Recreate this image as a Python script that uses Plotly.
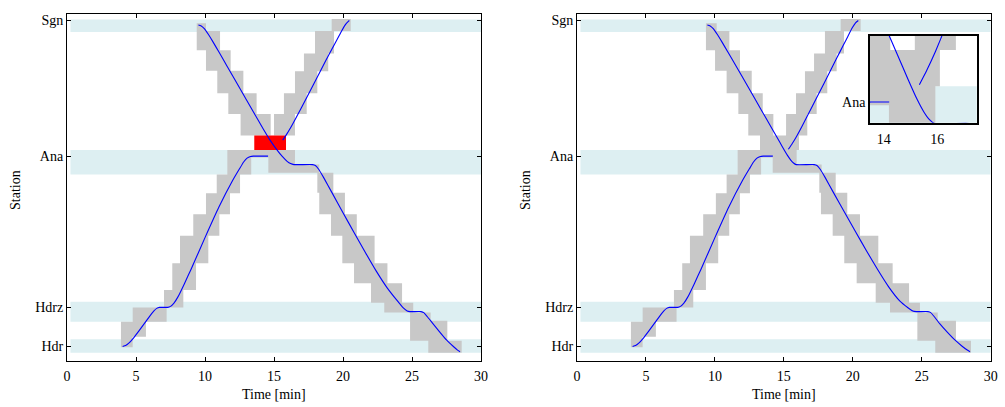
import plotly.graph_objects as go

# ---------------- data ----------------
station_names = ["Hdr", "Hdrz", "Ana", "Sgn"]
station_pos = [0.0, 1.2, 5.84, 10.0]

# station zones (light blue bands)
band_lo = [-0.19, 0.76, 5.28, 9.65]
band_hi = [0.22, 1.37, 6.03, 10.03]
band_t = [0.25, 30.0]

# blocking-time slabs: (y_from, y_to, t_from, t_to)
up_blocks_left = [
    (-0.02, 0.30, 3.91, 4.76), (0.30, 0.76, 3.91, 5.72), (0.76, 1.20, 4.76, 7.22),
    (1.20, 1.73, 7.03, 8.43), (1.73, 2.55, 7.63, 9.35), (2.55, 3.40, 8.19, 10.24),
    (3.40, 4.06, 9.15, 11.04), (4.06, 4.70, 10.07, 11.81), (4.70, 5.28, 10.85, 12.54),
    (5.28, 5.80, 11.62, 13.35), (5.80, 6.03, 11.62, 14.59),
    (6.47, 7.13, 15.00, 16.52), (7.13, 7.77, 15.72, 17.37), (7.77, 8.44, 16.52, 18.14),
    (8.44, 8.99, 17.17, 18.93), (8.99, 9.68, 17.97, 19.35), (9.68, 10.05, 19.18, 20.56),
]
down_blocks_left = [
    (9.68, 9.92, 9.40, 10.07), (9.09, 9.68, 9.40, 11.09), (8.46, 9.09, 10.07, 11.86),
    (7.77, 8.46, 10.89, 12.78), (7.13, 7.77, 11.69, 13.74), (6.47, 7.13, 12.58, 14.76),
    (5.58, 6.03, 14.59, 16.52), (5.33, 5.58, 14.59, 18.28), (4.72, 5.33, 18.14, 19.30),
    (4.06, 4.72, 18.28, 20.14), (3.40, 4.06, 19.13, 21.00), (2.55, 3.40, 19.95, 22.29),
    (1.94, 2.55, 20.80, 23.22), (1.34, 1.94, 22.03, 24.28), (1.04, 1.34, 22.99, 25.09),
    (0.79, 1.04, 24.86, 26.35), (0.18, 0.79, 24.86, 27.56), (-0.19, 0.18, 26.18, 28.60),
]
conflict_block = [(6.03, 6.47, 13.57, 15.87)]

up_blocks_right = [
    (-0.02, 0.30, 3.91, 4.76), (0.30, 0.76, 3.91, 5.72), (0.76, 1.20, 4.76, 7.22),
    (1.20, 1.73, 7.03, 8.43), (1.73, 2.55, 7.63, 9.35), (2.55, 3.40, 8.19, 10.24),
    (3.40, 4.06, 9.15, 11.04), (4.06, 4.70, 10.07, 11.81), (4.70, 5.28, 10.85, 12.54),
    (5.28, 5.80, 11.65, 13.35), (5.80, 6.03, 11.65, 14.20), (6.03, 6.47, 13.27, 16.10),
    (6.47, 7.13, 15.16, 16.70), (7.13, 7.77, 15.88, 17.38), (7.77, 8.44, 16.53, 18.15),
    (8.44, 8.99, 17.19, 18.83), (8.99, 9.68, 17.98, 19.36), (9.68, 10.05, 19.12, 20.57),
]
down_blocks_right = [
    (9.68, 9.92, 9.35, 10.13), (9.09, 9.68, 9.35, 11.05), (8.46, 9.09, 10.01, 11.82),
    (7.77, 8.46, 10.85, 12.67), (7.13, 7.77, 11.70, 13.47), (6.47, 7.13, 12.42, 14.24),
    (5.58, 6.03, 14.19, 15.93), (5.33, 5.58, 14.19, 17.74), (4.72, 5.33, 17.57, 18.76),
    (4.06, 4.72, 17.69, 19.60), (3.40, 4.06, 18.54, 20.52), (2.55, 3.40, 19.38, 21.85),
    (1.94, 2.55, 20.28, 22.89), (1.34, 1.94, 21.66, 24.08), (1.04, 1.34, 22.70, 24.87),
    (0.79, 1.04, 24.68, 26.16), (0.18, 0.79, 24.68, 27.48), (-0.19, 0.18, 25.98, 28.57),
]

# train paths (time [min], position)
upA_t = [4.03, 4.25, 4.5, 4.8, 5.2, 5.6, 6.0, 6.3, 6.5, 6.7, 7.3, 7.5, 7.75, 8.05, 8.5, 9.0,
         10.0, 11.0, 12.0, 12.5, 12.8, 13.05, 13.3, 13.5, 14.57]
upA_y = [0.0, 0.03, 0.11, 0.25, 0.47, 0.7, 0.93, 1.09, 1.17, 1.2, 1.2, 1.23, 1.33, 1.53, 1.92, 2.38,
         3.34, 4.27, 5.09, 5.45, 5.66, 5.78, 5.83, 5.84, 5.84]
upB_left_t = [15.63, 15.9, 16.2, 16.6, 17.4, 18.3, 19.2, 19.6, 19.9, 20.15, 20.35, 20.46]
upB_left_y = [6.33, 6.5, 6.71, 7.02, 7.66, 8.4, 9.13, 9.44, 9.68, 9.86, 9.96, 10.0]

upA_right_t = [4.03, 4.25, 4.5, 4.8, 5.2, 5.6, 6.0, 6.3, 6.5, 6.7, 7.3, 7.5, 7.75, 8.05, 8.5, 9.0,
               10.0, 11.0, 12.0, 12.5, 12.8, 13.05, 13.3, 13.5, 14.2]
upA_right_y = [0.0, 0.03, 0.11, 0.25, 0.47, 0.7, 0.93, 1.09, 1.17, 1.2, 1.2, 1.23, 1.33, 1.53, 1.92,
               2.38, 3.34, 4.27, 5.09, 5.45, 5.66, 5.78, 5.83, 5.84, 5.84]
upB_right_t = [15.33, 15.6, 15.93, 16.3, 17.0, 17.9, 18.8, 19.3, 19.65, 19.95, 20.2, 20.4]
upB_right_y = [6.05, 6.22, 6.45, 6.74, 7.32, 8.06, 8.82, 9.23, 9.52, 9.77, 9.93, 10.0]

down_left_t = [9.52, 9.7, 9.95, 10.25, 10.6, 11.0, 11.6, 12.5, 13.5, 14.2, 14.7, 15.2, 15.6,
               15.95, 16.2, 16.45, 17.8, 18.0, 18.25, 18.6, 19.2, 20.0, 20.8, 21.6, 22.4,
               23.2, 23.9, 24.35, 24.65, 24.85, 25.65, 25.85, 26.1, 26.5, 27.0, 27.5, 28.0, 28.3, 28.48]
down_left_y = [9.86, 9.84, 9.75, 9.57, 9.33, 9.04, 8.6, 7.94, 7.2, 6.69, 6.34, 6.04, 5.83,
               5.68, 5.61, 5.58, 5.58, 5.55, 5.43, 5.18, 4.72, 4.1, 3.5, 2.9, 2.32,
               1.8, 1.42, 1.19, 1.09, 1.07, 1.07, 1.04, 0.92, 0.71, 0.45, 0.2, 0.0, -0.11, -0.16]

down_right_t = [9.45, 9.63, 9.88, 10.18, 10.53, 10.93, 11.5, 12.4, 13.3, 14.0, 14.5, 14.9, 15.25,
                15.5, 15.7, 15.9, 17.2, 17.4, 17.65, 18.0, 18.6, 19.4, 20.2, 21.0, 21.8,
                22.6, 23.4, 24.0, 24.35, 24.6, 25.45, 25.65, 25.9, 26.3, 26.85, 27.4, 27.95, 28.3, 28.5]
down_right_y = [9.86, 9.84, 9.75, 9.57, 9.33, 9.04, 8.63, 7.97, 7.3, 6.79, 6.42, 6.12, 5.87,
                5.72, 5.63, 5.58, 5.58, 5.55, 5.43, 5.18, 4.72, 4.12, 3.52, 2.93, 2.36,
                1.83, 1.4, 1.19, 1.09, 1.07, 1.07, 1.04, 0.92, 0.7, 0.44, 0.2, 0.0, -0.11, -0.16]

# ---------------- styling ----------------
FONT = "Liberation Serif, Times New Roman, serif"
BAND_COLOR = "#ddeff2"
BLOCK_COLOR = "#c8c8c8"
LINE_COLOR = "#0000ff"
W, H = 1005, 407


def rect_path(blocks):
    xs, ys = [], []
    for y0, y1, t0, t1 in blocks:
        xs += [t0, t1, t1, t0, t0, None]
        ys += [y0, y0, y1, y1, y0, None]
    return xs, ys


def band_path():
    xs, ys = [], []
    for lo, hi in zip(band_lo, band_hi):
        xs += [band_t[0], band_t[1], band_t[1], band_t[0], band_t[0], None]
        ys += [lo, lo, hi, hi, lo, None]
    return xs, ys


fig = go.Figure()


def add_panel(xa, ya, up_blocks, down_blocks, red, lines):
    bx, by = band_path()
    fig.add_trace(go.Scatter(x=bx, y=by, fill="toself", fillcolor=BAND_COLOR, mode="lines",
                             line=dict(width=0, color=BAND_COLOR), xaxis=xa, yaxis=ya,
                             hoverinfo="skip", showlegend=False))
    gx, gy = rect_path(up_blocks + down_blocks)
    fig.add_trace(go.Scatter(x=gx, y=gy, fill="toself", fillcolor=BLOCK_COLOR, mode="lines",
                             line=dict(width=0, color=BLOCK_COLOR), xaxis=xa, yaxis=ya,
                             hoverinfo="skip", showlegend=False))
    if red:
        rx, ry = rect_path(red)
        fig.add_trace(go.Scatter(x=rx, y=ry, fill="toself", fillcolor="#ff0000", mode="lines",
                                 line=dict(width=0, color="#ff0000"), xaxis=xa, yaxis=ya,
                                 hoverinfo="skip", showlegend=False))
    for lt, ly in lines:
        fig.add_trace(go.Scatter(x=lt, y=ly, mode="lines",
                                 line=dict(color=LINE_COLOR, width=1.1, shape="spline", smoothing=0.4),
                                 xaxis=xa, yaxis=ya, hoverinfo="skip", showlegend=False))


add_panel("x", "y", up_blocks_left, down_blocks_left, conflict_block,
          [(upA_t, upA_y), (upB_left_t, upB_left_y), (down_left_t, down_left_y)])
right_lines = [(upA_right_t, upA_right_y), (upB_right_t, upB_right_y), (down_right_t, down_right_y)]
add_panel("x2", "y2", up_blocks_right, down_blocks_right, None, right_lines)
add_panel("x3", "y3", up_blocks_right, down_blocks_right, None, right_lines)

YR = [-0.445, 10.2]
y_dom = [1 - 361 / H, 1 - 14 / H]
tickfont = dict(family=FONT, size=14, color="black")

xcommon = dict(range=[0, 30], tickvals=[0, 5, 10, 15, 20, 25, 30], ticks="inside", ticklen=4,
               showline=True, linecolor="black", linewidth=1, mirror="ticks", showgrid=False,
               zeroline=False, tickfont=tickfont, tickcolor="black", automargin=False,
               ticklabelstandoff=2)
ycommon = dict(range=YR, tickvals=station_pos, ticktext=station_names, ticks="inside", ticklen=4,
               showline=True, linecolor="black", linewidth=1, mirror="ticks", showgrid=False,
               zeroline=False, tickfont=tickfont, tickcolor="black", automargin=False)

fig.update_layout(
    width=W, height=H, margin=dict(l=0, r=0, t=0, b=0, autoexpand=False),
    paper_bgcolor="white", plot_bgcolor="white",
    xaxis=dict(domain=[67 / W, 481 / W], anchor="y", **xcommon),
    yaxis=dict(domain=y_dom, anchor="x", **ycommon),
    xaxis2=dict(domain=[577 / W, 990.7 / W], anchor="y2", **xcommon),
    yaxis2=dict(domain=y_dom, anchor="x2", **ycommon),
    xaxis3=dict(domain=[870 / W, 976.7 / W], anchor="y3", range=[13.48, 17.48], tickvals=[14, 16],
                ticks="", showline=True, linecolor="black", linewidth=1.5, mirror=True,
                showgrid=False, zeroline=False, tickfont=tickfont, automargin=False,
                ticklabelstandoff=3),
    yaxis3=dict(domain=[1 - 122.7 / H, 1 - 36 / H], anchor="x3", range=[5.59, 6.64],
                tickvals=[5.84], ticktext=["Ana"], ticks="", showline=True, linecolor="black",
                linewidth=1.5, mirror=True, showgrid=False, zeroline=False, tickfont=tickfont,
                automargin=False),
    showlegend=False,
)

ann_font = dict(family=FONT, size=14, color="black")
for cx in [274, 784]:
    fig.add_annotation(x=cx / W, y=1 - 394 / H, xref="paper", yref="paper", text="Time [min]",
                       showarrow=False, font=ann_font, xanchor="center", yanchor="middle")
for cx in [15, 525]:
    fig.add_annotation(x=cx / W, y=1 - 190 / H, xref="paper", yref="paper", text="Station",
                       showarrow=False, font=ann_font, textangle=-90, xanchor="center",
                       yanchor="middle")

fig.write_html("out.html", config={"displayModeBar": False},
               post_script="document.body.style.margin='0px';document.body.style.overflow='hidden';")
